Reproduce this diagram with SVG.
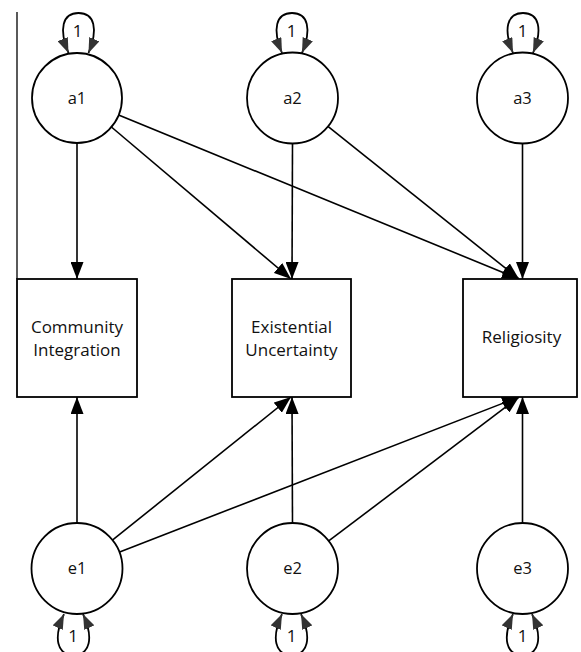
<svg xmlns="http://www.w3.org/2000/svg" width="581" height="652" viewBox="0 0 581 652">
<defs>
<marker id="arr" markerUnits="userSpaceOnUse" markerWidth="18" markerHeight="13" refX="17" refY="6.5" orient="auto"><path d="M0,0 L17,6.5 L0,13 z" fill="#000"/></marker>
<marker id="loopArr" markerUnits="userSpaceOnUse" markerWidth="16" markerHeight="11" refX="15" refY="5.5" orient="auto-start-reverse"><path d="M0,0 L15,5.5 L0,11 z" fill="#333"/></marker>
<style>
.node{fill:#fff;stroke:#000;stroke-width:1.8}
.lbl{font-family:"Open Sans","DejaVu Sans",sans-serif;font-size:16.5px;fill:#111;text-anchor:middle}
.blbl{font-family:"Open Sans","DejaVu Sans",sans-serif;font-size:17px;fill:#111;text-anchor:middle}
.one{font-family:"Open Sans","DejaVu Sans",sans-serif;font-size:17px;fill:#111;text-anchor:middle}
.edge{stroke:#000;stroke-width:1.6;fill:none;marker-end:url(#arr)}
.loop{stroke:#000;stroke-width:1.8;fill:none;marker-start:url(#loopArr);marker-end:url(#loopArr)}
</style>
</defs>
<line x1="17" y1="12" x2="17" y2="279" stroke="#000" stroke-width="1.3"/>
<g id="connectors">
<line class="edge" x1="77" y1="143" x2="77" y2="279"/>
<line class="edge" x1="111.4" y1="127" x2="291" y2="279"/>
<line class="edge" x1="118.6" y1="115" x2="519" y2="279"/>
<line class="edge" x1="292.5" y1="143.5" x2="292" y2="279"/>
<line class="edge" x1="327.6" y1="126.2" x2="519" y2="279"/>
<line class="edge" x1="522.5" y1="143.5" x2="522.5" y2="279"/>
<line class="edge" x1="77" y1="523" x2="77" y2="397"/>
<line class="edge" x1="112.1" y1="540.4" x2="291" y2="397"/>
<line class="edge" x1="119" y1="552.2" x2="519" y2="397"/>
<line class="edge" x1="292.5" y1="523" x2="292" y2="397"/>
<line class="edge" x1="328.4" y1="541.2" x2="519" y2="397"/>
<line class="edge" x1="522.5" y1="523" x2="522.5" y2="397"/>
</g>
<g id="a1"><path class="loop" d="M68.5 53 C58.5 29, 62.5 13, 78.5 13 C94.5 13, 98.5 29, 88.5 53"/><text class="one" x="77.5" y="37">1</text><circle class="node" cx="77" cy="98" r="45"/><text class="lbl" x="77" y="104">a1</text></g>
<g id="a2"><path class="loop" d="M282 53 C272 29, 276 13, 292 13 C308 13, 312 29, 302 53"/><text class="one" x="291.5" y="37">1</text><circle class="node" cx="292.5" cy="98" r="45.5"/><text class="lbl" x="292.5" y="104">a2</text></g>
<g id="a3"><path class="loop" d="M513 53 C503 29, 507 13, 523 13 C539 13, 543 29, 533 53"/><text class="one" x="522.5" y="37">1</text><circle class="node" cx="522.5" cy="98" r="45.5"/><text class="lbl" x="522.5" y="104">a3</text></g>
<g id="community"><rect class="node" x="17" y="279" width="120" height="118"/><text class="blbl" x="77" y="333">Community</text><text class="blbl" x="77" y="356">Integration</text></g>
<g id="existential"><rect class="node" x="232" y="279" width="119" height="118"/><text class="blbl" x="291.5" y="333">Existential</text><text class="blbl" x="291.5" y="356">Uncertainty</text></g>
<g id="religiosity"><rect class="node" x="463" y="279" width="114" height="118"/><text class="blbl" x="521.5" y="343">Religiosity</text></g>
<g id="e1"><path class="loop" d="M64 614 C53 638, 57 655, 73.5 655 C90 655, 94 638, 83 614"/><text class="one" x="73" y="642">1</text><circle class="node" cx="77" cy="568.5" r="45.5"/><text class="lbl" x="77" y="574">e1</text></g>
<g id="e2"><path class="loop" d="M282 614 C271 638, 275 655, 291.5 655 C308 655, 312 638, 301 614"/><text class="one" x="291.5" y="642">1</text><circle class="node" cx="292.5" cy="568.5" r="45.5"/><text class="lbl" x="292.5" y="574">e2</text></g>
<g id="e3"><path class="loop" d="M513 614 C502 638, 506 655, 522.5 655 C539 655, 543 638, 532 614"/><text class="one" x="522.5" y="642">1</text><circle class="node" cx="522.5" cy="568.5" r="45.5"/><text class="lbl" x="522.5" y="574">e3</text></g>
</svg>
